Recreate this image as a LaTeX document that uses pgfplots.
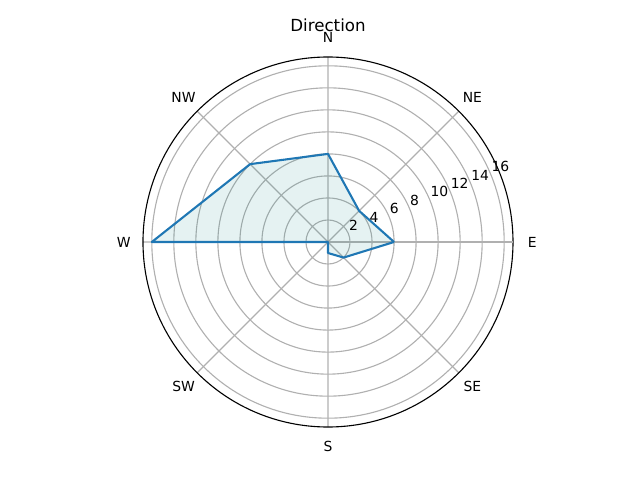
\documentclass[border=0pt]{standalone}
\usepackage{pgfplots}
\pgfplotsset{compat=1.18}
\usepgfplotslibrary{polar}
\usepackage{fontspec}
\setmainfont{DejaVu Sans}

\definecolor{mplblue}{HTML}{1F77B4}
\definecolor{gridgray}{HTML}{B0B0B0}

\begin{document}
\begin{tikzpicture}
\begin{polaraxis}[
  scale only axis,
  width=266.4pt, height=266.4pt,
  ymin=0, ymax=16.8,
  xtick={0,45,...,315},
  ytick={2,4,...,16},
  xticklabel=\empty, yticklabel=\empty,
  major tick length=0pt,
  grid=major,
  major grid style={color=gridgray, line width=0.8pt},
  x axis line style={black, line width=0.8pt},
  y axis line style={gridgray, line width=0.8pt},
  clip=false,
  font=\fontsize{10}{12}\selectfont,
]
\coordinate (c) at (axis cs:0,0);

% filled area
\addplot[draw=none, fill=teal, fill opacity=0.1] coordinates {
  (0,6) (45,4) (90,8) (135,10) (180,16) (225,0) (270,1) (315,2) (360,6)
} -- cycle;

% outline
\addplot[mplblue, line width=1.5pt, line join=round] coordinates {
  (0,6) (45,4) (90,8) (135,10) (180,16) (225,0) (270,1) (315,2) (360,6)
};

% direction labels
\foreach \a/\l in {0/E,45/NE,90/N,135/NW,180/W,225/SW,270/S,315/SE}{
  \edef\tmp{\noexpand\node[anchor=center, inner sep=0pt] at (axis cs:\a,18.55) {\l};}
  \tmp
}

% radial labels
\foreach \r in {2,4,...,16}{
  \edef\tmp{\noexpand\node[anchor=south west, inner sep=0pt, xshift=0.4pt, yshift=1.8pt] at (axis cs:22.5,\r) {\r};}
  \tmp
}

\node[anchor=center, inner sep=0pt, font=\fontsize{12}{14}\selectfont] at (axis cs:90,19.71) {Direction};
\end{polaraxis}
\pgfresetboundingbox
\path ([shift={(-236.16pt,-171.36pt)}]c) rectangle ([shift={(224.64pt,174.24pt)}]c);
\end{tikzpicture}
\end{document}
